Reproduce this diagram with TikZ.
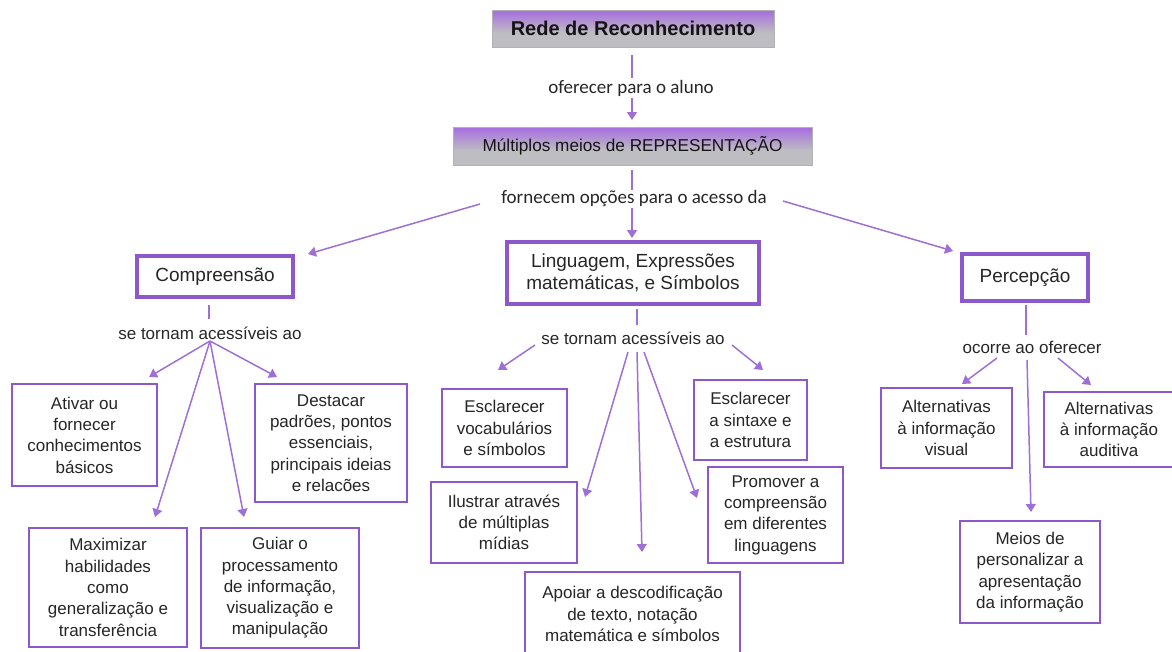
\documentclass[tikz,border=0pt]{standalone}
\usepackage{fontspec}
\setmainfont{Liberation Sans}
\newfontfamily\calib{Carlito}
\usetikzlibrary{arrows.meta}
\definecolor{boxc}{RGB}{140,88,204}
\definecolor{arrc}{RGB}{158,112,214}
\definecolor{topc}{RGB}{166,108,224}
\definecolor{grayc}{RGB}{190,189,194}
\pgfdeclareverticalshading{hdrshade}{100bp}{color(0bp)=(grayc); color(25bp)=(grayc); color(44bp)=(grayc); color(75bp)=(topc); color(100bp)=(topc)}
\tikzset{
  box/.style={draw=boxc, line width=2pt, fill=white, align=center, inner sep=0pt,
    font=\fontsize{17}{21.3}\selectfont, text=black!85},
  catbox/.style={box, line width=3.5pt, font=\fontsize{19}{21.5}\selectfont},
  headbox/.style={draw=gray!60, line width=0.6pt, shading=hdrshade,
    align=center, inner sep=0pt, text=black!92},
  lab/.style={inner sep=0pt, align=center, font=\fontsize{17}{20}\selectfont, text=black!85},
  clab/.style={inner sep=0pt, align=center, font=\calib\fontsize{19}{22}\selectfont, text=black!85},
  ln/.style={draw=arrc, line width=1.5pt},
  arr/.style={ln, -{Triangle[length=8pt,width=10pt]}},
}
\begin{document}
\begin{tikzpicture}[x=1pt,y=-1pt]
\useasboundingbox (0,0) rectangle (1172,651);
% header boxes
\node[headbox, minimum width=282pt, minimum height=37pt, font=\bfseries\fontsize{20}{24}\selectfont] (rede) at (633,28.5) {Rede de Reconhecimento};
\node[clab] (lab1) at (631,88) {oferecer para o aluno};
\node[headbox, minimum width=359pt, minimum height=38pt, font=\fontsize{17.2}{21}\selectfont] (mult) at (632.5,146) {Múltiplos meios de REPRESENTAÇÃO};
\node[clab] (lab2) at (634,198) {fornecem opções para o acesso da};

% category boxes
\node[catbox, minimum width=156pt, minimum height=41pt] (comp) at (215,276.5) {Compreensão};
\node[catbox, minimum width=252pt, minimum height=62pt] (ling) at (633,273) {Linguagem, Expressões\\matemáticas, e Símbolos};
\node[catbox, minimum width=126pt, minimum height=47pt] (perc) at (1025,277.5) {Percepção};

\node[lab] (lab3) at (210,333) {se tornam acessíveis ao};
\node[lab] (lab4) at (633,338) {se tornam acessíveis ao};
\node[lab] (lab5) at (1032,347) {ocorre ao oferecer};

% left leaves
\node[box, minimum width=145pt, minimum height=102pt] (ativar) at (84.5,435) {Ativar ou\\fornecer\\conhecimentos\\básicos};
\node[box, minimum width=152pt, minimum height=118pt] (dest) at (331,443) {Destacar\\padrões, pontos\\essenciais,\\principais ideias\\e relacões};
\node[box, minimum width=158pt, minimum height=119pt] (maxi) at (108,587.5) {Maximizar\\habilidades\\como\\generalização e\\transferência};
\node[box, minimum width=158pt, minimum height=120pt] (guiar) at (280,588) {Guiar o\\processamento\\de informação,\\visualização e\\manipulação};

% middle leaves
\node[box, minimum width=125pt, minimum height=78pt] (escv) at (504.5,428) {Esclarecer\\vocabulários\\e símbolos};
\node[box, minimum width=146pt, minimum height=81pt] (ilus) at (504,522.5) {Ilustrar através\\de múltiplas\\mídias};
\node[box, minimum width=113pt, minimum height=80pt] (escs) at (750.5,420) {Esclarecer\\a sintaxe e\\a estrutura};
\node[box, minimum width=135pt, minimum height=96pt] (prom) at (775.5,515) {Promover a\\compreensão\\em diferentes\\linguagens};
\node[box, minimum width=215pt, minimum height=84pt] (apoi) at (632.5,614) {Apoiar a descodificação\\de texto, notação\\matemática e símbolos};

% right leaves
\node[box, minimum width=131pt, minimum height=80pt] (altv) at (946.5,428) {Alternativas\\à informação\\visual};
\node[box, minimum width=130pt, minimum height=75pt] (alta) at (1109,429.5) {Alternativas\\à informação\\auditiva};
\node[box, minimum width=140pt, minimum height=102pt] (meio) at (1030,572) {Meios de\\personalizar a\\apresentação\\da informação};

% connector end points
\coordinate (a1) at (632,55);  \coordinate (a2) at (632,78);
\coordinate (b1) at (632,98);  \coordinate (b2) at (632,120);
\coordinate (c1) at (632,170); \coordinate (c2) at (632,190);
\coordinate (d1) at (632,208); \coordinate (d2) at (632,238);
\coordinate (e1) at (480,204); \coordinate (e2) at (308,254);
\coordinate (f1) at (783,201); \coordinate (f2) at (953,251);

\coordinate (g1) at (209,305); \coordinate (g2) at (209,319);
\coordinate (g0) at (210,341);
\coordinate (gt1) at (149,377); \coordinate (gt2) at (155,517);
\coordinate (gt3) at (244,517); \coordinate (gt4) at (277,377);

\coordinate (h1) at (637,309); \coordinate (h2) at (637,325);
\coordinate (hs1) at (535,345); \coordinate (ht1) at (498,370);
\coordinate (hs2) at (732,345); \coordinate (ht2) at (763,370);
\coordinate (hs3) at (628,352); \coordinate (ht3) at (585,497);
\coordinate (hs4) at (637,352); \coordinate (ht4) at (642,552);
\coordinate (hs5) at (644,352); \coordinate (ht5) at (697,498);

\coordinate (k1) at (1026,305); \coordinate (k2) at (1026,335);
\coordinate (ks1) at (997,358); \coordinate (kt1) at (962,384);
\coordinate (ks2) at (1058,358); \coordinate (kt2) at (1091,385);
\coordinate (ks3) at (1027,360); \coordinate (kt3) at (1031,512);

% connectors
\draw[ln] (a1) -- (a2);
\draw[arr] (b1) -- (b2);
\draw[ln] (c1) -- (c2);
\draw[arr] (d1) -- (d2);
\draw[arr] (e1) -- (e2);
\draw[arr] (f1) -- (f2);

\draw[ln] (g1) -- (g2);
\draw[arr] (g0) -- (gt1);
\draw[arr] (g0) -- (gt2);
\draw[arr] (g0) -- (gt3);
\draw[arr] (g0) -- (gt4);

\draw[ln] (h1) -- (h2);
\draw[arr] (hs1) -- (ht1);
\draw[arr] (hs2) -- (ht2);
\draw[arr] (hs3) -- (ht3);
\draw[arr] (hs4) -- (ht4);
\draw[arr] (hs5) -- (ht5);

\draw[ln] (k1) -- (k2);
\draw[arr] (ks1) -- (kt1);
\draw[arr] (ks2) -- (kt2);
\draw[arr] (ks3) -- (kt3);
\end{tikzpicture}
\end{document}
